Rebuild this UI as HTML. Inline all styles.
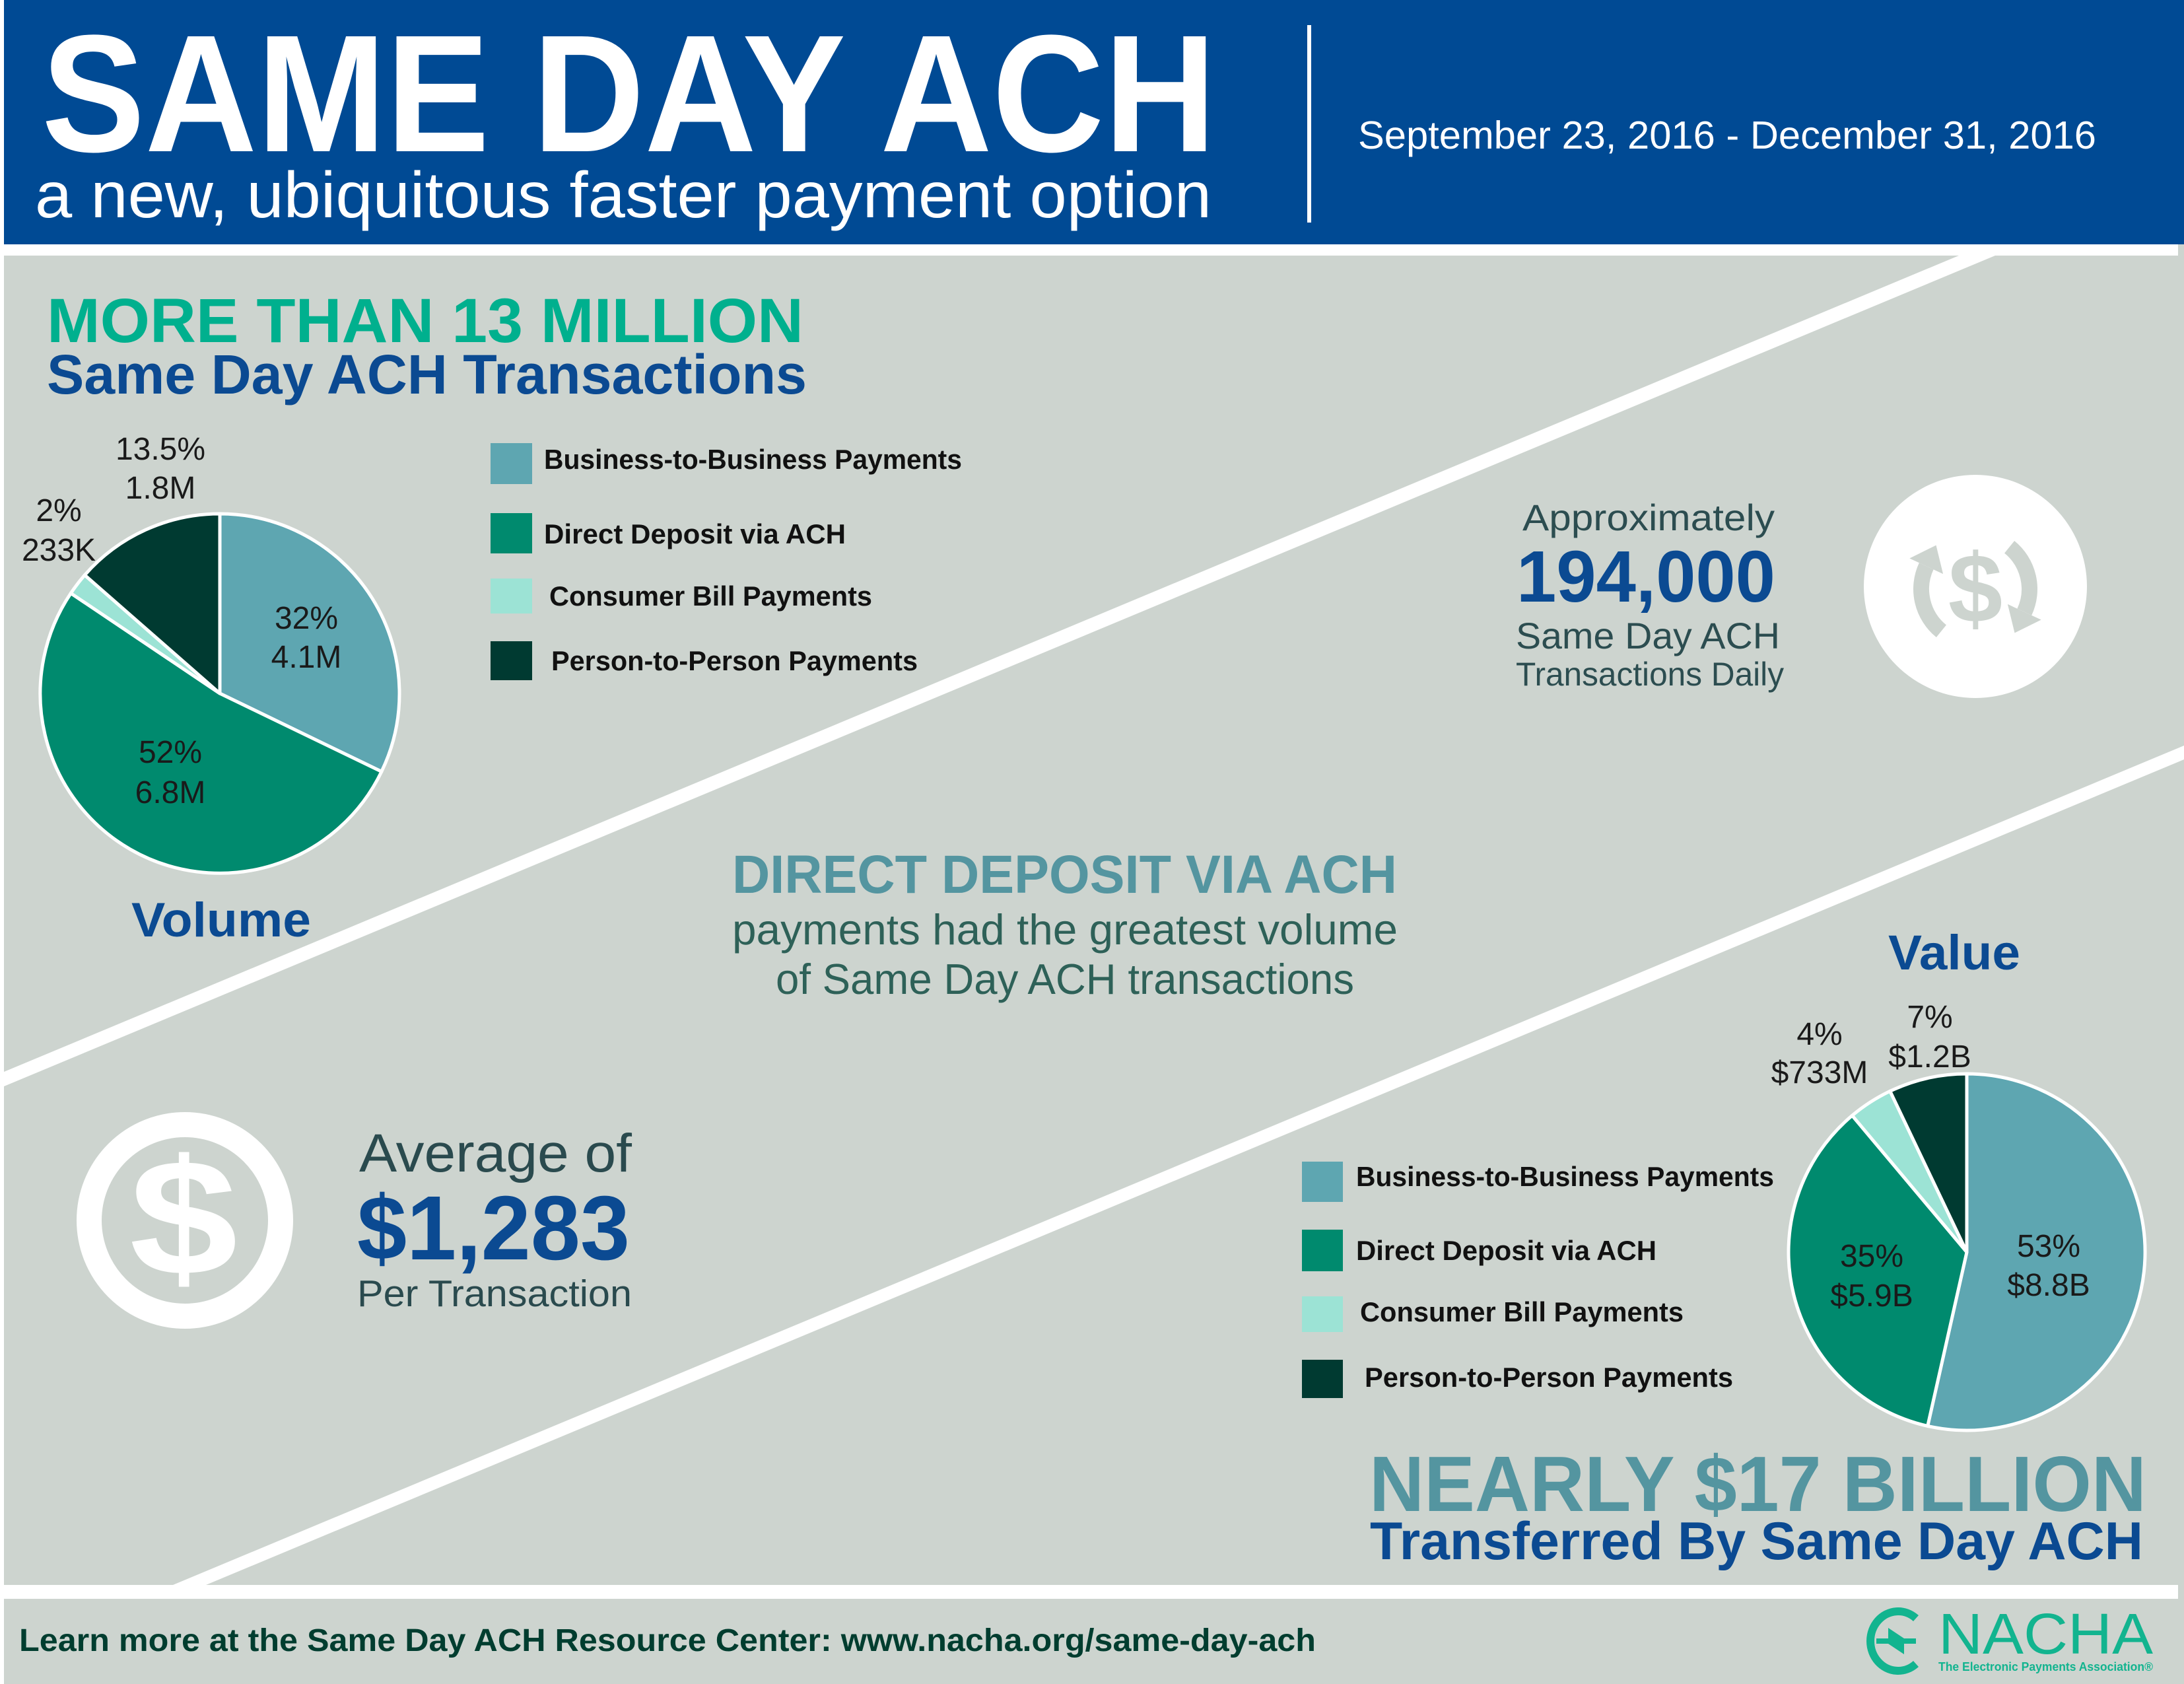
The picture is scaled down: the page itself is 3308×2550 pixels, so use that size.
<!DOCTYPE html>
<html><head><meta charset="utf-8"><style>
html,body{margin:0;padding:0;background:#fff;}
svg{display:block;}
text{font-family:"Liberation Sans",Arial,sans-serif;}
</style></head><body>
<svg xmlns="http://www.w3.org/2000/svg" width="3308" height="2550" viewBox="0 0 3308 2550">
<rect x="0" y="0" width="3308" height="2550" fill="#ffffff"/>
<rect x="6" y="0" width="3302" height="2550" fill="#cdd4cf"/>
<rect x="6" y="0" width="3302" height="370" fill="#004a94"/>
<rect x="6" y="370" width="3293" height="17" fill="#ffffff"/>
<rect x="6" y="2400" width="3293" height="21" fill="#ffffff"/>
<polygon points="2967,387 3022,387 6,1645 6,1623" fill="#ffffff"/>
<polygon points="262,2400 312,2400 3308,1150 3308,1129" fill="#ffffff"/>

<!-- header -->
<text x="63" y="229" font-size="253" font-weight="bold" fill="#ffffff" textLength="1779" lengthAdjust="spacingAndGlyphs">SAME DAY ACH</text>
<text x="53" y="329" font-size="98" fill="#ffffff" textLength="1782" lengthAdjust="spacingAndGlyphs">a new, ubiquitous faster payment option</text>
<rect x="1980" y="38" width="6" height="299" fill="#ffffff"/>
<text x="2057" y="225" font-size="59" fill="#ffffff" textLength="1118" lengthAdjust="spacingAndGlyphs">September 23, 2016 - December 31, 2016</text>

<!-- top-left headings -->
<text x="71" y="518" font-size="95" font-weight="bold" fill="#00b08e" textLength="1146" lengthAdjust="spacingAndGlyphs">MORE THAN 13 MILLION</text>
<text x="71" y="596" font-size="84" font-weight="bold" fill="#0b4a92" textLength="1151" lengthAdjust="spacingAndGlyphs">Same Day ACH Transactions</text>

<!-- volume pie -->
<g stroke="#ffffff" stroke-width="5" stroke-linejoin="round">
<path d="M333,1050 L333,778 A272,272 0 0 1 577.9,1168.4 Z" fill="#5ea6b1"/>
<path d="M333,1050 L577.9,1168.4 A272,272 0 1 1 107.3,898.3 Z" fill="#008a6e"/>
<path d="M333,1050 L107.3,898.3 A272,272 0 0 1 128.3,870.8 Z" fill="#9ce3d5"/>
<path d="M333,1050 L128.3,870.8 A272,272 0 0 1 333,778 Z" fill="#003a31"/>
</g>
<g font-size="48" fill="#1a1a1a" text-anchor="middle">
<text x="464" y="952">32%</text>
<text x="464" y="1011">4.1M</text>
<text x="258" y="1155">52%</text>
<text x="258" y="1216">6.8M</text>
<text x="243" y="696">13.5%</text>
<text x="243" y="755">1.8M</text>
<text x="89" y="789">2%</text>
<text x="89" y="849">233K</text>
</g>
<text x="199" y="1418" font-size="73" font-weight="bold" fill="#0b4a92" textLength="272" lengthAdjust="spacingAndGlyphs">Volume</text>

<!-- volume legend -->
<rect x="743" y="671" width="63" height="62" fill="#5ea6b1"/>
<rect x="743" y="777" width="63" height="61" fill="#008a6e"/>
<rect x="743" y="876" width="63" height="53" fill="#9ce3d5"/>
<rect x="743" y="971" width="63" height="59" fill="#003a31"/>
<g font-size="42" font-weight="bold" fill="#111111">
<text x="824" y="710" textLength="633" lengthAdjust="spacingAndGlyphs">Business-to-Business Payments</text>
<text x="824" y="823" textLength="457" lengthAdjust="spacingAndGlyphs">Direct Deposit via ACH</text>
<text x="832" y="917" textLength="489" lengthAdjust="spacingAndGlyphs">Consumer Bill Payments</text>
<text x="835" y="1015" textLength="555" lengthAdjust="spacingAndGlyphs">Person-to-Person Payments</text>
</g>

<!-- approximately block -->
<g fill="#2c4d50">
<text x="2306" y="803" font-size="56" textLength="382" lengthAdjust="spacingAndGlyphs">Approximately</text>
<text x="2296" y="982" font-size="56" textLength="400" lengthAdjust="spacingAndGlyphs">Same Day ACH</text>
<text x="2296" y="1038" font-size="50" textLength="406" lengthAdjust="spacingAndGlyphs">Transactions Daily</text>
</g>
<text x="2297" y="911" font-size="110" font-weight="bold" fill="#0b4a92" textLength="392" lengthAdjust="spacingAndGlyphs">194,000</text>

<!-- right circle icon -->
<circle cx="2992" cy="888" r="169" fill="#ffffff"/>
<g fill="none" stroke="#cdd4cf" stroke-width="24">
<path d="M2940.4,955.7 A82,82 0 0 1 2917.7,857.3"/>
<path d="M3043.6,828.3 A82,82 0 0 1 3066.3,926.7"/>
</g>
<polygon points="2932.5,825.6 2892.3,845.5 2943.1,869.1" fill="#cdd4cf"/>
<polygon points="3051.5,958.4 3091.7,938.5 3040.9,914.9" fill="#cdd4cf"/>
<text x="2992" y="942" font-size="148" font-weight="bold" fill="#cdd4cf" text-anchor="middle">$</text>

<!-- middle text -->
<text x="1109" y="1352" font-size="82" font-weight="bold" fill="#5495a0" textLength="1007" lengthAdjust="spacingAndGlyphs">DIRECT DEPOSIT VIA ACH</text>
<text x="1109" y="1430" font-size="65" fill="#2e6158" textLength="1008" lengthAdjust="spacingAndGlyphs">payments had the greatest volume</text>
<text x="1175" y="1505" font-size="65" fill="#2e6158" textLength="876" lengthAdjust="spacingAndGlyphs">of Same Day ACH transactions</text>

<!-- left dollar icon -->
<circle cx="280" cy="1848" r="145" fill="none" stroke="#ffffff" stroke-width="38"/>
<g transform="translate(278,1930) scale(1.18,1)">
<text x="0" y="0" font-size="250" font-weight="bold" fill="#ffffff" text-anchor="middle">$</text>
</g>
<g fill="#2a4a4e">
<text x="544" y="1774" font-size="82" textLength="413" lengthAdjust="spacingAndGlyphs">Average of</text>
<text x="541" y="1978" font-size="57" textLength="416" lengthAdjust="spacingAndGlyphs">Per Transaction</text>
</g>
<text x="541" y="1907" font-size="138" font-weight="bold" fill="#0b4a92" textLength="413" lengthAdjust="spacingAndGlyphs">$1,283</text>

<!-- value -->
<text x="2860" y="1468" font-size="74" font-weight="bold" fill="#0b4a92" textLength="200" lengthAdjust="spacingAndGlyphs">Value</text>
<g stroke="#ffffff" stroke-width="5" stroke-linejoin="round">
<path d="M2979,1896 L2979,1626 A270,270 0 1 1 2919.7,2159.4 Z" fill="#5ea6b1"/>
<path d="M2979,1896 L2919.7,2159.4 A270,270 0 0 1 2805.4,1689.2 Z" fill="#008a6e"/>
<path d="M2979,1896 L2805.4,1689.2 A270,270 0 0 1 2862.8,1652.3 Z" fill="#9ce3d5"/>
<path d="M2979,1896 L2862.8,1652.3 A270,270 0 0 1 2979,1626 Z" fill="#003a31"/>
</g>
<g font-size="48" fill="#1a1a1a" text-anchor="middle">
<text x="3103" y="1903">53%</text>
<text x="3103" y="1962">$8.8B</text>
<text x="2835" y="1918">35%</text>
<text x="2835" y="1978">$5.9B</text>
<text x="2756" y="1582">4%</text>
<text x="2756" y="1640">$733M</text>
<text x="2923" y="1556">7%</text>
<text x="2923" y="1616">$1.2B</text>
</g>
<rect x="1972" y="1759" width="62" height="61" fill="#5ea6b1"/>
<rect x="1972" y="1862" width="62" height="63" fill="#008a6e"/>
<rect x="1972" y="1963" width="62" height="54" fill="#9ce3d5"/>
<rect x="1972" y="2059" width="62" height="58" fill="#003a31"/>
<g font-size="42" font-weight="bold" fill="#111111">
<text x="2054" y="1796" textLength="633" lengthAdjust="spacingAndGlyphs">Business-to-Business Payments</text>
<text x="2054" y="1908" textLength="455" lengthAdjust="spacingAndGlyphs">Direct Deposit via ACH</text>
<text x="2060" y="2001" textLength="490" lengthAdjust="spacingAndGlyphs">Consumer Bill Payments</text>
<text x="2067" y="2100" textLength="558" lengthAdjust="spacingAndGlyphs">Person-to-Person Payments</text>
</g>

<!-- nearly 17 billion -->
<text x="2074" y="2288" font-size="119" font-weight="bold" fill="#5495a0" textLength="1177" lengthAdjust="spacingAndGlyphs">NEARLY $17 BILLION</text>
<text x="2075" y="2361" font-size="81" font-weight="bold" fill="#0b4a92" textLength="1171" lengthAdjust="spacingAndGlyphs">Transferred By Same Day ACH</text>

<!-- footer -->
<text x="29" y="2500" font-size="48" font-weight="bold" fill="#003d2f" textLength="1964" lengthAdjust="spacingAndGlyphs">Learn more at the Same Day ACH Resource Center: www.nacha.org/same-day-ach</text>

<!-- NACHA logo -->
<path d="M2902,2450.5 A42,45 0 1 0 2902,2519.5" fill="none" stroke="#12b48f" stroke-width="12"/>
<rect x="2842" y="2481" width="60" height="8" fill="#12b48f"/>
<polygon points="2860,2465 2884,2481 2860,2481" fill="#12b48f"/>
<polygon points="2884,2505 2860,2489 2884,2489" fill="#12b48f"/>
<text x="2936" y="2504" font-size="87" fill="#12b48f" textLength="325" lengthAdjust="spacingAndGlyphs">NACHA</text>
<text x="2936" y="2530" font-size="18" font-weight="bold" fill="#12b48f" textLength="325" lengthAdjust="spacingAndGlyphs">The Electronic Payments Association®</text>
</svg>
</body></html>
